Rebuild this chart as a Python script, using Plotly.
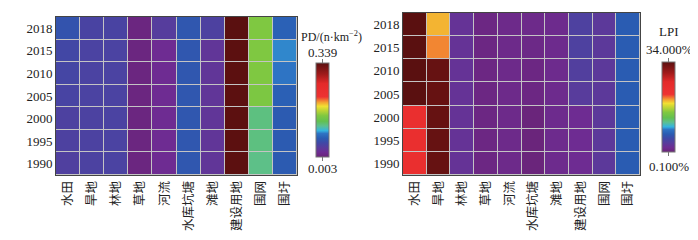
import plotly.graph_objects as go

categories = ["水田", "旱地", "林地", "草地", "河流", "水库坑塘", "滩地", "建设用地", "围网", "围圩"]
years = ["2018", "2015", "2010", "2005", "2000", "1995", "1990"]

# PD values, rows = years (top to bottom), cols = categories
pd_values = [
    [0.063, 0.047, 0.047, 0.008, 0.038, 0.066, 0.044, 0.339, 0.150, 0.074],
    [0.052, 0.046, 0.046, 0.008, 0.020, 0.066, 0.030, 0.338, 0.150, 0.090],
    [0.050, 0.046, 0.046, 0.008, 0.020, 0.066, 0.030, 0.338, 0.150, 0.087],
    [0.048, 0.046, 0.046, 0.008, 0.020, 0.066, 0.030, 0.338, 0.148, 0.073],
    [0.044, 0.045, 0.046, 0.008, 0.020, 0.066, 0.030, 0.338, 0.118, 0.069],
    [0.044, 0.045, 0.046, 0.008, 0.020, 0.066, 0.030, 0.338, 0.118, 0.069],
    [0.042, 0.045, 0.046, 0.008, 0.020, 0.066, 0.030, 0.338, 0.116, 0.069],
]
pd_range = [0.003, 0.339]

# LPI values (%)
lpi_values = [
    [34.0, 19.4, 2.5, 0.8, 1.3, 1.3, 1.5, 4.2, 3.2, 6.9],
    [34.0, 20.3, 2.5, 0.8, 1.3, 1.1, 1.5, 4.2, 3.2, 6.9],
    [34.0, 33.3, 2.5, 0.8, 1.3, 0.8, 1.5, 3.9, 3.2, 6.9],
    [34.0, 33.3, 2.5, 0.8, 1.3, 0.8, 1.5, 3.5, 3.2, 6.9],
    [23.8, 33.3, 2.5, 0.8, 1.3, 0.3, 1.5, 1.8, 3.2, 6.9],
    [23.8, 33.3, 2.5, 0.8, 1.3, 0.3, 1.5, 1.8, 3.2, 6.9],
    [23.8, 33.3, 2.5, 0.8, 1.3, 0.3, 1.5, 1.8, 3.2, 6.9],
]
lpi_range = [0.1, 34.0]

colorscale = [
    [0.00, "#6a2478"],
    [0.05, "#6e2c92"],
    [0.10, "#583c9c"],
    [0.15, "#4048a6"],
    [0.20, "#2a5cb2"],
    [0.25, "#2e74c4"],
    [0.28, "#34b4e0"],
    [0.33, "#5cc090"],
    [0.38, "#62c050"],
    [0.44, "#80c840"],
    [0.50, "#c4d634"],
    [0.54, "#f2e032"],
    [0.58, "#f4a432"],
    [0.64, "#ee3232"],
    [0.78, "#e42a2a"],
    [0.88, "#a01a1a"],
    [1.00, "#5a1010"],
]

# The page body has an 8px margin; size the figure to fit and map reference pixels.
OFF = 8
W, H = 698 - OFF, 240 - OFF
def px(x):
    return (x - OFF) / W
def py(y):
    return 1 - (y - OFF) / H

serif = "Liberation Serif"
cjk = "Noto Sans CJK SC"
txtcol = "#222222"

fig = go.Figure()
fig.add_trace(go.Heatmap(
    z=pd_values, x=categories, y=years, zmin=pd_range[0], zmax=pd_range[1],
    colorscale=colorscale, xgap=1, ygap=1, xaxis="x", yaxis="y",
    colorbar=dict(x=px(316), xanchor="left", y=py(110), yanchor="middle",
                  len=94/H, lenmode="fraction", thickness=13, xpad=0, ypad=0,
                  outlinewidth=1, outlinecolor="#777777", showticklabels=False, ticks=""),
))
fig.add_trace(go.Heatmap(
    z=lpi_values, x=categories, y=years, zmin=lpi_range[0], zmax=lpi_range[1],
    colorscale=colorscale, xgap=1, ygap=1, xaxis="x2", yaxis="y2",
    colorbar=dict(x=px(662), xanchor="left", y=py(107), yanchor="middle",
                  len=90/H, lenmode="fraction", thickness=13, xpad=0, ypad=0,
                  outlinewidth=1, outlinecolor="#777777", showticklabels=False, ticks=""),
))

axcommon = dict(showgrid=False, zeroline=False, showline=True, linecolor="#444444",
                linewidth=1, mirror=True, ticks="", automargin=False)
xfont = dict(family=cjk, size=12.5, color=txtcol)
yfont = dict(family=serif, size=13, color=txtcol)
fig.update_layout(
    width=W, height=H, margin=dict(l=0, r=0, t=0, b=0, autoexpand=False),
    paper_bgcolor="white", plot_bgcolor="#c4c4c4", showlegend=False,
    xaxis=dict(domain=[px(56), px(297)], anchor="y", tickangle=-90, tickfont=xfont, **axcommon),
    yaxis=dict(domain=[py(175), py(17)], anchor="x", autorange="reversed", tickfont=yfont, **axcommon),
    xaxis2=dict(domain=[px(403), px(640)], anchor="y2", tickangle=-90, tickfont=xfont, **axcommon),
    yaxis2=dict(domain=[py(175), py(13)], anchor="x2", autorange="reversed", tickfont=yfont, **axcommon),
)

def ann(x, y, text, size=13):
    fig.add_annotation(x=px(x), y=py(y), xref="paper", yref="paper", text=text,
                       showarrow=False, xanchor="center", yanchor="middle",
                       font=dict(family=serif, size=size, color=txtcol))

ann(331, 36, "PD/(n·km<sup>−2</sup>)", size=12)
ann(322, 52, "0.339")
ann(322, 168, "0.003")
ann(669, 32, "LPI")
ann(669, 49, "34.000%")
ann(669, 166, "0.100%")

# small tick marks at colorbar ends
for cx, y0, y1 in [(322.5, 63, 157), (668.5, 62, 152)]:
    fig.add_shape(type="line", xref="paper", yref="paper", x0=px(cx), x1=px(cx),
                  y0=py(y0 - 4), y1=py(y0), line=dict(color="#777777", width=1))
    fig.add_shape(type="line", xref="paper", yref="paper", x0=px(cx), x1=px(cx),
                  y0=py(y1), y1=py(y1 + 4), line=dict(color="#777777", width=1))

fig.write_html("out.html")
